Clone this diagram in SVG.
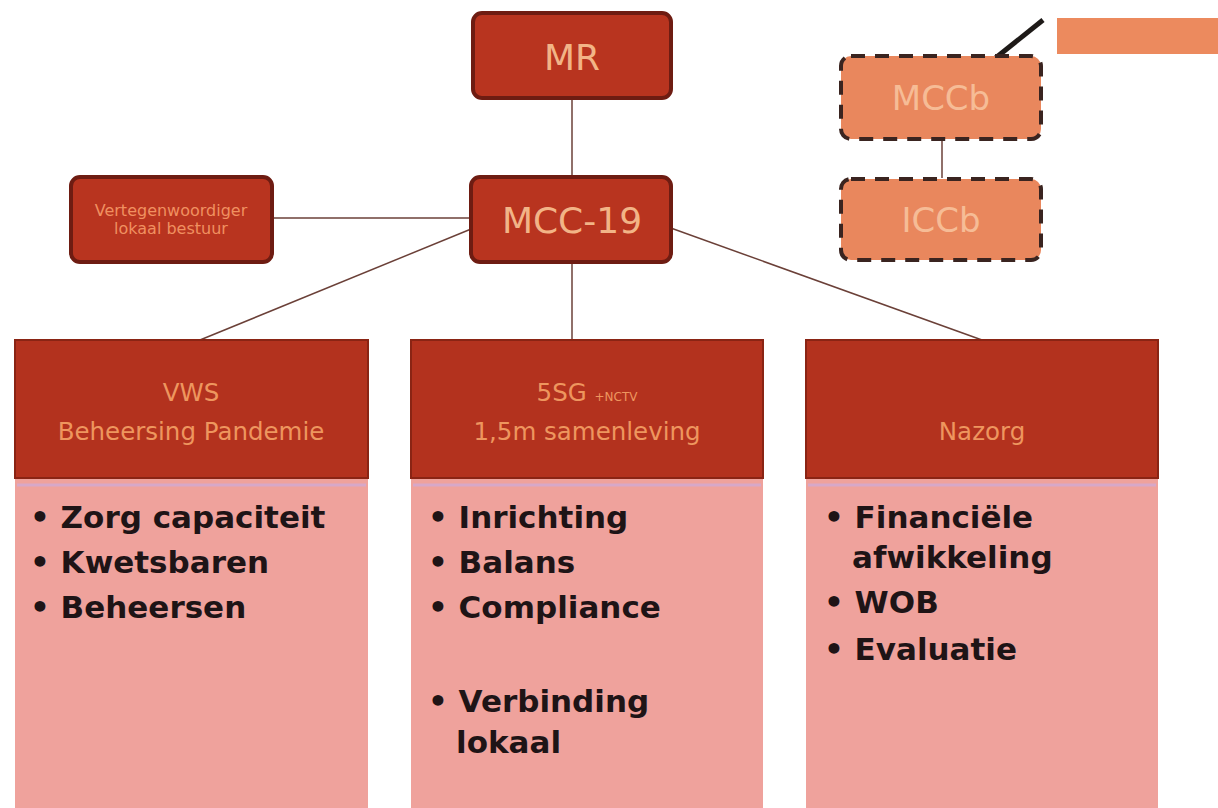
<svg xmlns="http://www.w3.org/2000/svg" width="1218" height="808" viewBox="0 0 1218 808">
<style>
.box{fill:#b8341f;stroke:#6e1c12;stroke-width:4}
.dash{fill:#e9875d;stroke:#3a2420;stroke-width:4;stroke-dasharray:14 10}
.head{fill:#b3321e;stroke:#8a2414;stroke-width:2}
.body{fill:#efa29c}
.stripe{stroke:#d7a8c8;stroke-width:3}
.big{font-family:"DejaVu Sans",sans-serif;font-size:36px;fill:#f2b487;text-anchor:middle}
.cb{font-family:"DejaVu Sans",sans-serif;font-size:34px;fill:#f6bc96;text-anchor:middle}
.hd{font-family:"DejaVu Sans",sans-serif;font-size:24.5px;fill:#ee965e;text-anchor:middle}
.sm{font-family:"DejaVu Sans",sans-serif;font-size:16px;fill:#f09060;text-anchor:middle}
.bl{font-family:"DejaVu Sans",sans-serif;font-size:31px;font-weight:bold;fill:#1e1416}
.con{stroke:#6b4038;stroke-width:1.5;fill:none}
</style>
<rect width="1218" height="808" fill="#ffffff"/>
<g id="connectors">
<line class="con" x1="572" y1="98" x2="572" y2="176"/>
<line class="con" x1="273" y1="218" x2="470" y2="218"/>
<line class="con" x1="476" y1="227" x2="200" y2="340"/>
<line class="con" x1="572" y1="262" x2="572" y2="340"/>
<line class="con" x1="668" y1="227" x2="982" y2="340"/>
<line class="con" x1="942" y1="140" x2="942" y2="178"/>
<line x1="993" y1="60" x2="1043" y2="20" stroke="#1e1a18" stroke-width="5"/>
</g>
<g id="MR">
<rect class="box" x="473" y="13" width="198" height="85" rx="9"/>
<text class="big" x="572" y="70">MR</text>
</g>
<g id="MCC-19">
<rect class="box" x="471" y="177" width="200" height="85" rx="9"/>
<text class="big" x="572" y="233">MCC-19</text>
</g>
<g id="vertegenwoordiger">
<rect class="box" x="71" y="177" width="201" height="85" rx="9"/>
<text class="sm" x="171" y="216">Vertegenwoordiger</text>
<text class="sm" x="171" y="234">lokaal bestuur</text>
</g>
<g id="MCCb">
<rect class="dash" x="841" y="56" width="200" height="83" rx="10"/>
<text class="cb" x="941" y="110">MCCb</text>
</g>
<g id="ICCb">
<rect class="dash" x="841" y="179" width="200" height="81" rx="10"/>
<text class="cb" x="941" y="232">ICCb</text>
</g>
<g id="label-tag">
<rect x="1057" y="18" width="161" height="36" fill="#ec8a5e"/>
</g>
<g id="VWS">
<rect class="body" x="15" y="478" width="353" height="330"/>
<line class="stripe" x1="17" y1="485" x2="366" y2="485"/>
<rect class="head" x="15" y="340" width="353" height="138"/>
<text class="hd" x="191" y="401">VWS</text>
<text class="hd" x="191" y="440">Beheersing Pandemie</text>
<text class="bl" x="30" y="528">• Zorg capaciteit</text>
<text class="bl" x="30" y="573">• Kwetsbaren</text>
<text class="bl" x="30" y="618">• Beheersen</text>
</g>
<g id="5SG">
<rect class="body" x="411" y="478" width="352" height="330"/>
<line class="stripe" x1="413" y1="485" x2="761" y2="485"/>
<rect class="head" x="411" y="340" width="352" height="138"/>
<text class="hd" x="587" y="401">5SG <tspan font-size="12">+NCTV</tspan></text>
<text class="hd" x="587" y="440">1,5m samenleving</text>
<text class="bl" x="428" y="528">• Inrichting</text>
<text class="bl" x="428" y="573">• Balans</text>
<text class="bl" x="428" y="618">• Compliance</text>
<text class="bl" x="428" y="712">• Verbinding</text>
<text class="bl" x="456" y="753">lokaal</text>
</g>
<g id="Nazorg">
<rect class="body" x="806" y="478" width="352" height="330"/>
<line class="stripe" x1="808" y1="485" x2="1156" y2="485"/>
<rect class="head" x="806" y="340" width="352" height="138"/>
<text class="hd" x="982" y="440">Nazorg</text>
<text class="bl" x="824" y="528">• Financiële</text>
<text class="bl" x="852" y="568">afwikkeling</text>
<text class="bl" x="824" y="613">• WOB</text>
<text class="bl" x="824" y="660">• Evaluatie</text>
</g>
</svg>
